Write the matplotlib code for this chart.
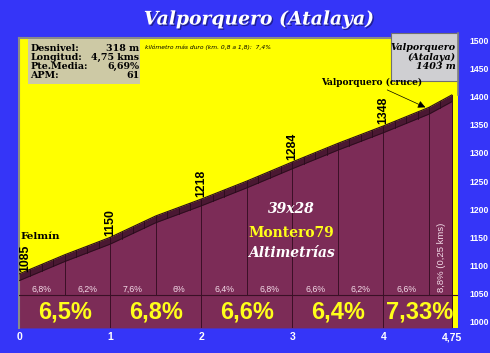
import numpy as np
import matplotlib.pyplot as plt
import matplotlib.patheffects as pe

# profile every 0.5 km (last stretch is 0.25 km)
km = [0, 0.5, 1, 1.5, 2, 2.5, 3, 3.5, 4, 4.5, 4.75]
elev = [1085, 1119, 1150, 1188, 1218, 1250, 1284, 1317, 1348, 1381, 1403]
half_pct = ["6,8%", "6,2%", "7,6%", "6%", "6,4%", "6,8%", "6,6%", "6,2%", "6,6%"]
km_pct = ["6,5%", "6,8%", "6,6%", "6,4%", "7,33%"]
label_km = [0, 1, 2, 3, 4]
label_elev = [1085, 1150, 1218, 1284, 1348]
xticks = [0, 1, 2, 3, 4, 4.75]
xtick_labels = ["0", "1", "2", "3", "4", "4,75"]
yticks = list(range(1000, 1501, 50))

BLUE = "#3535f8"
PURPLE = "#7c2c57"
DARK = "#4a1832"
YMIN, YMAX = 989, 1504
band = 12
div_y = 1047

fig = plt.figure(figsize=(4.9, 3.53), dpi=100, facecolor=BLUE)
ax = fig.add_axes([0.039, 0.071, 0.896, 0.821])
ax.set_facecolor("#ffff00")
ax.set_xlim(0, 4.82)
ax.set_ylim(YMIN, YMAX)

kx = np.array(km)
ke = np.array(elev)
ax.fill_between(kx, YMIN, ke, color=PURPLE, lw=0, zorder=2)
ax.fill_between(kx, ke - band, ke, color=DARK, lw=0, zorder=3)
ax.plot(kx, ke, color="#2a0c1c", lw=0.8, zorder=4)
ax.plot(kx, ke - band, color="#2a0c1c", lw=0.6, zorder=4)
# little segments inside the top band
for s in np.arange(0.125, 4.75, 0.125):
    e = np.interp(s, kx, ke)
    ax.plot([s, s], [e - band, e], color="#2a0c1c", lw=0.6, zorder=4)

# vertical separators
for k in km[1:-1]:
    e = np.interp(k, kx, ke)
    bottom = YMIN if float(k).is_integer() else div_y
    ax.plot([k, k], [bottom, e - band], color="#3a1026", lw=0.7, zorder=4)
ax.plot([4.75, 4.75], [YMIN, 1403], color="#3a1026", lw=0.7, zorder=4)
ax.axhline(div_y, color="#3a1026", lw=0.8, zorder=4)

# percentages
for i, p in enumerate(half_pct):
    ax.text(km[i] + 0.25, 1058, p, ha="center", va="center", fontsize=6.3,
            color="#f3dbe8", family="Liberation Sans", zorder=5)
ax.text(4.64, 1115, "8,8% (0,25 kms)", rotation=90, ha="center", va="center",
        fontsize=6.8, color="#f3dbe8", family="Liberation Sans", zorder=5)
centers = [0.5, 1.5, 2.5, 3.5, 4.4]
for c, p in zip(centers, km_pct):
    ax.text(c, 1017, p, ha="center", va="center", fontsize=17, fontweight="bold",
            color="#ffff1a", family="Liberation Sans", zorder=5)

# elevation labels
for k, e in zip(label_km, label_elev):
    x = k + 0.07 if k == 0 else k
    ax.text(x, e + 3, str(e), rotation=90, ha="center", va="bottom", fontsize=8.8,
            fontweight="bold", family="Liberation Sans", zorder=5)

ax.text(0.01, 1151, "Felmín", fontsize=7.5, fontweight="bold", family="DejaVu Serif",
        ha="left", va="center", zorder=5)
ax.annotate("Valporquero (cruce)", xy=(4.46, 1381), xytext=(4.42, 1425),
            fontsize=6.5, fontweight="bold", family="DejaVu Serif", ha="right", va="center",
            arrowprops=dict(arrowstyle="-|>", color="black", lw=0.5, mutation_scale=11,
                            shrinkA=0, shrinkB=0),
            zorder=6)

ax.text(2.99, 1200, "39x28", fontsize=10, fontweight="bold", style="italic",
        family="DejaVu Serif", color="white", ha="center", va="center", zorder=5)
ax.text(2.99, 1158, "Montero79", fontsize=10, fontweight="bold",
        family="DejaVu Serif", color="#ffff1a", ha="center", va="center", zorder=5)
ax.text(2.99, 1122, "Altimetrías", fontsize=10, fontweight="bold", style="italic",
        family="DejaVu Serif", color="white", ha="center", va="center", zorder=5)

# info box
ax.add_patch(plt.Rectangle((0.1, 1422), 1.23, 80, fc="#cdc9a5", ec="none", zorder=5))
ax.text(0.12, 1462, "Desnivel:\nLongitud:\nPte.Media:\nAPM:", fontsize=6.8,
        fontweight="bold", family="DejaVu Serif", ha="left", va="center",
        linespacing=0.98, zorder=6)
ax.text(1.32, 1462, "318 m\n4,75 kms\n6,69%\n61", fontsize=6.8, fontweight="bold",
        family="DejaVu Serif", ha="right", va="center", linespacing=0.98,
        multialignment="right", zorder=6)
ax.text(1.38, 1488, "kilómetro más duro (km. 0,8 a 1,8):  7,4%", fontsize=4.3,
        style="italic", family="DejaVu Sans", ha="left", va="center", zorder=6)

# summit box
ax.add_patch(plt.Rectangle((4.08, 1427), 0.74, 86, fc="#cfcfd2", ec="#707070",
                           lw=0.8, zorder=5, clip_on=False))
ax.plot([4.82, 4.82], [1403, 1513], color="#808080", lw=1.2, zorder=6, clip_on=False)
ax.text(4.79, 1470, "Valporquero\n(Atalaya)\n1403 m", fontsize=6.8, fontweight="bold",
        style="italic", family="DejaVu Serif", ha="right", va="center",
        multialignment="right", linespacing=1.05, zorder=7, clip_on=False)

# axes styling
ax.set_xticks(xticks)
ax.set_xticklabels(xtick_labels)
ax.set_yticks(yticks)
ax.yaxis.tick_right()
ax.tick_params(axis="x", length=0, pad=3, colors="white", labelsize=7.5)
ax.tick_params(axis="y", length=0, pad=8, colors="white", labelsize=6.2)
for lab in ax.get_xticklabels():
    lab.set_fontweight("bold")
    lab.set_family("Liberation Sans")
for lab in ax.get_yticklabels():
    lab.set_fontweight("bold")
    lab.set_family("Liberation Sans")
for side in ["left", "top"]:
    ax.spines[side].set_color("#8a8a8a")
    ax.spines[side].set_linewidth(1.5)
for side in ["right", "bottom"]:
    ax.spines[side].set_visible(False)

fig.text(0.528, 0.945, "Valporquero (Atalaya)", fontsize=13.5, fontweight="bold",
         style="italic", family="DejaVu Serif", color="white", ha="center", va="center",
         path_effects=[pe.withSimplePatchShadow(offset=(1, -1), shadow_rgbFace="#1a1a80",
                                                alpha=0.8)])

fig.savefig("out.png", dpi=100, facecolor=BLUE)
